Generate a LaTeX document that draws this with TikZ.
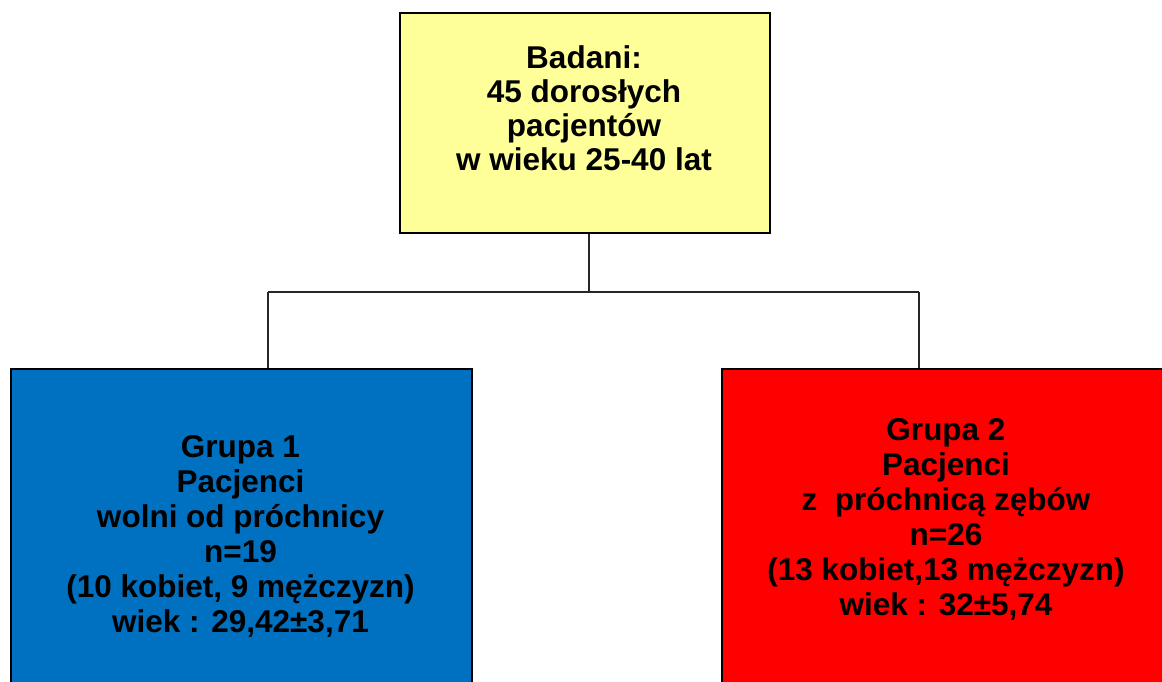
\documentclass[tikz,border=0pt]{standalone}
\usepackage{fontspec}
\setmainfont{Liberation Sans}
\definecolor{boxyellow}{HTML}{FFFF99}
\definecolor{boxblue}{HTML}{0070C0}
\definecolor{boxred}{HTML}{FF0000}
\begin{document}
\begin{tikzpicture}[x=1pt,y=-1pt,
  box/.style={draw=black, line width=2pt, inner sep=0pt, anchor=north west},
  conn/.style={draw=black!85, line width=1.5pt},
  txt/.style={align=center, inner sep=0pt, anchor=north, text=black},
  bigfont/.style={font=\fontsize{31.5}{35}\selectfont\bfseries},
  topfont/.style={font=\fontsize{31.5}{34}\selectfont\bfseries}]
\useasboundingbox (0,0) rectangle (1162,682);
\clip (0,0) rectangle (1162,682);
\node[box, fill=boxyellow, minimum width=370pt, minimum height=220pt] (top) at (399,12) {};
\node[box, fill=boxblue, minimum width=461pt, minimum height=340pt] (left) at (10,368) {};
\node[box, fill=boxred, minimum width=500pt, minimum height=340pt] (right) at (721,368) {};
\coordinate (jc) at (589,292);
\coordinate (jl) at (268,292);
\coordinate (jr) at (919,292);
\draw[conn] (top.south -| jc) -- (jc);
\draw[conn] (jl) -- (jr);
\draw[conn] (jl) -- (left.north -| jl);
\draw[conn] (jr) -- (right.north -| jr);
\node[txt, topfont] (ttop) at (584,45) {Badani:\\45 dorosłych\\pacjentów\\w wieku 25-40 lat};
\node[txt, bigfont] (tleft) at (240.5,435) {Grupa 1\\Pacjenci\\wolni od próchnicy\\n=19\\(10 kobiet, 9 mężczyzn)\\wiek : 29,42±3,71};
\node[txt, bigfont] (tright) at (946,418) {Grupa 2\\Pacjenci\\z\ \ próchnicą zębów\\n=26\\(13 kobiet,13 mężczyzn)\\wiek : 32±5,74};
\end{tikzpicture}
\end{document}
